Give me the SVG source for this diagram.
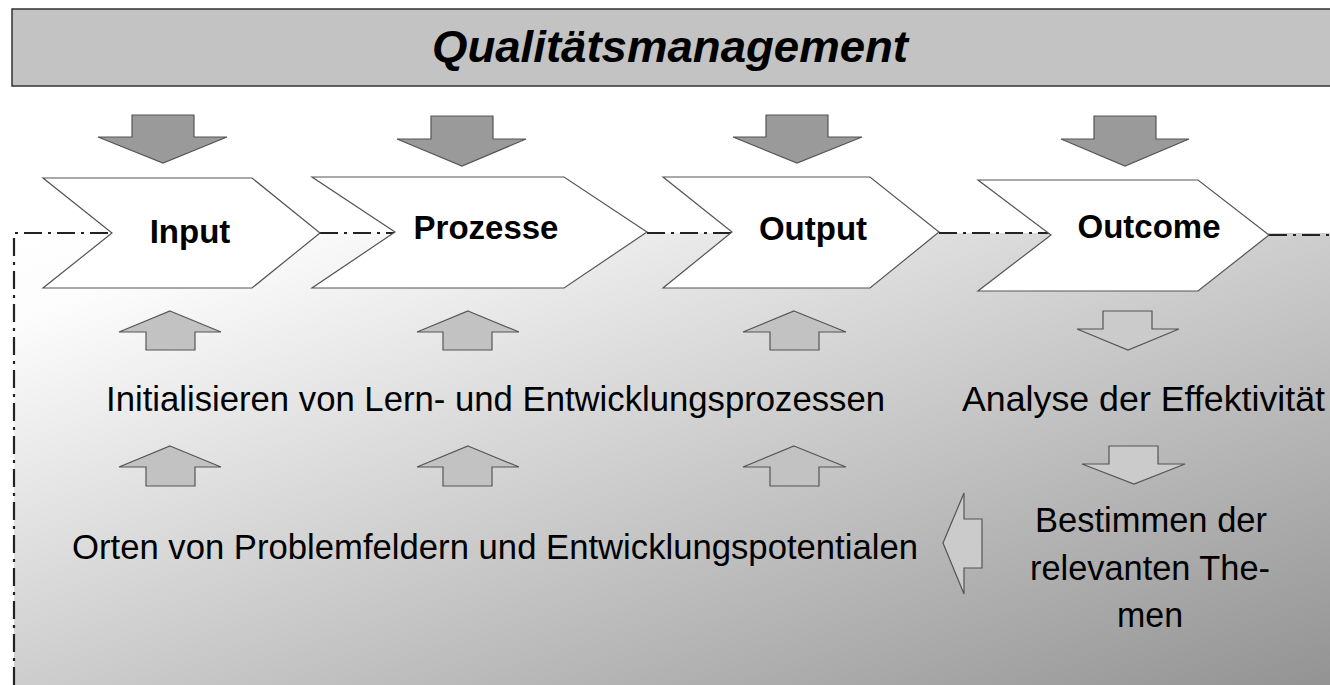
<svg xmlns="http://www.w3.org/2000/svg" width="1330" height="685" viewBox="0 0 1330 685">
  <defs>
    <linearGradient id="bg" x1="0" y1="0" x2="1" y2="1">
      <stop offset="0" stop-color="#ffffff"/>
      <stop offset="0.1" stop-color="#fcfcfc"/>
      <stop offset="1" stop-color="#939393"/>
    </linearGradient>
  </defs>
  <style>
    .chev { fill: #ffffff; stroke: #555555; stroke-width: 1.2; }
    .dark { fill: #9a9a9a; stroke: #555555; stroke-width: 1.2; }
    .light { fill: #c2c2c2; stroke: #555555; stroke-width: 1.2; }
    .lightd { fill: #cbcbcb; stroke: #555555; stroke-width: 1.2; }
    .dd { fill: none; stroke: #222222; stroke-width: 2.2; stroke-dasharray: 18 6 3 6; }
    .lbl { font-family: "Liberation Sans", Arial, sans-serif; font-weight: bold; font-size: 33px; fill: #000; text-anchor: middle; }
    .txt { font-family: "Liberation Sans", Arial, sans-serif; font-size: 35px; fill: #000; }
  </style>

  <rect x="14" y="233" width="1316" height="452" fill="url(#bg)"/>

  <g id="title">
    <rect x="12" y="9" width="1330" height="77" fill="#c3c3c3" stroke="#333333" stroke-width="1.5"/>
    <text x="432" y="62" textLength="476" lengthAdjust="spacingAndGlyphs" font-family="Liberation Sans, Arial, sans-serif" font-weight="bold" font-style="italic" font-size="45">Qualitätsmanagement</text>
  </g>

  <g id="connectors">
    <polyline class="dd" points="14,685 14,233 112,233"/>
    <line class="dd" x1="320" y1="233" x2="395" y2="233"/>
    <line class="dd" x1="647" y1="233" x2="732" y2="233"/>
    <line class="dd" x1="939" y1="233" x2="1051" y2="233"/>
    <line class="dd" x1="1269" y1="235" x2="1330" y2="235"/>
  </g>

  <g id="input">
    <polygon class="dark" points="132,115 194,115 194,137 227,137 163,163 98,137 132,137"/>
    <polygon class="chev" points="43,178 252,178 320,233 252,288 43,288 112,233"/>
    <text class="lbl" x="190" y="243">Input</text>
  </g>
  <g id="prozesse">
    <polygon class="dark" points="431,116 493,116 493,139 526,139 462,166 397,139 431,139"/>
    <polygon class="chev" points="312,177 564,177 647,232 564,288 312,288 395,232"/>
    <text class="lbl" x="486" y="239">Prozesse</text>
  </g>
  <g id="output">
    <polygon class="dark" points="766,115 828,115 828,137 862,137 797,163 733,137 766,137"/>
    <polygon class="chev" points="663,177 870,177 939,232 870,288 663,288 732,232"/>
    <text class="lbl" x="813" y="240">Output</text>
  </g>
  <g id="outcome">
    <polygon class="dark" points="1094,116 1156,116 1156,139 1189,139 1125,166 1061,139 1094,139"/>
    <polygon class="chev" points="978,180 1198,180 1269,235 1198,291 978,291 1051,235"/>
    <text class="lbl" x="1149" y="238">Outcome</text>
  </g>

  <g id="initialisieren">
    <polygon class="light" points="170,311 221,332 195,332 195,350 146,350 146,332 119,332"/>
    <polygon class="light" points="468,311 519,332 492,332 492,350 443,350 443,332 417,332"/>
    <polygon class="light" points="794,311 846,332 819,332 819,350 770,350 770,332 743,332"/>
    <text class="txt" x="106" y="411" textLength="779" lengthAdjust="spacingAndGlyphs">Initialisieren von Lern- und Entwicklungsprozessen</text>
  </g>

  <g id="analyse">
    <polygon class="lightd" points="1103,311 1152,311 1152,329 1179,329 1128,350 1077,329 1103,329"/>
    <text class="txt" x="962" y="411" textLength="363" lengthAdjust="spacingAndGlyphs">Analyse der Effektivität</text>
  </g>

  <g id="orten">
    <polygon class="light" points="170,446 221,467 195,467 195,486 146,486 146,467 119,467"/>
    <polygon class="light" points="468,446 519,467 492,467 492,486 443,486 443,467 417,467"/>
    <polygon class="light" points="794,446 846,467 819,467 819,486 770,486 770,467 743,467"/>
    <text class="txt" x="72" y="559" textLength="846" lengthAdjust="spacingAndGlyphs">Orten von Problemfeldern und Entwicklungspotentialen</text>
  </g>

  <g id="bestimmen">
    <polygon class="lightd" points="1109,446 1158,446 1158,464 1185,464 1134,484 1082,464 1109,464"/>
    <polygon class="lightd" points="943,543 964,493 964,519 982,519 982,568 964,568 964,594"/>
    <text class="txt" x="1035" y="532" textLength="232" lengthAdjust="spacingAndGlyphs">Bestimmen der</text>
    <text class="txt" x="1030" y="580" textLength="240" lengthAdjust="spacingAndGlyphs">relevanten The-</text>
    <text class="txt" x="1117" y="627" textLength="66" lengthAdjust="spacingAndGlyphs">men</text>
  </g>
</svg>
